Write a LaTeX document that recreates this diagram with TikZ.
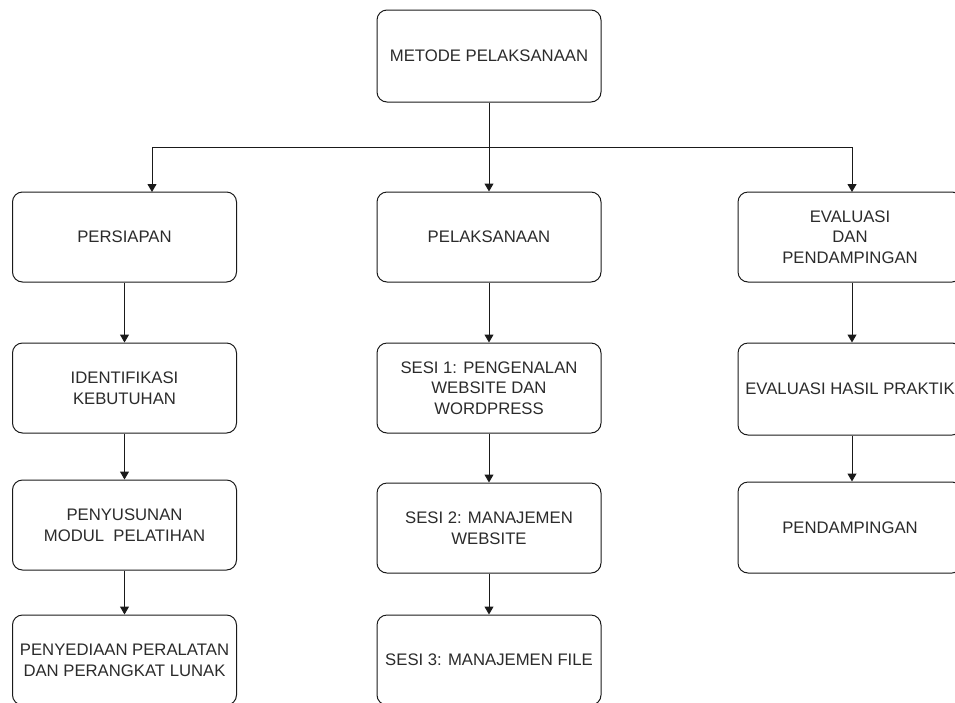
\documentclass[tikz,border=0pt]{standalone}
\usepackage{fontspec}
\setmainfont{Liberation Sans}
\usetikzlibrary{arrows.meta,positioning}
\definecolor{txt}{HTML}{2B2B2B}
\definecolor{ln}{HTML}{1A1A1A}
\begin{document}
\begin{tikzpicture}[x=1pt,y=-1pt,
  box/.style={draw=ln,line width=1pt,rounded corners=10pt,minimum width=224pt,minimum height=90pt,
    align=center,text=txt,font=\fontsize{16.7}{20.7}\selectfont,inner sep=0pt},
  arr/.style={draw=ln,line width=1pt,-{Triangle[length=8pt,width=9pt]}}]
\useasboundingbox (0,0) rectangle (955,702);
\clip (0,0) rectangle (955,702);
\node[box,minimum height=92pt] (top) at (489,56) {METODE PELAKSANAAN};
\node[box] (a1) at (124.5,237) {PERSIAPAN};
\node[box] (b1) at (489,237) {PELAKSANAAN};
\node[box] (c1) at (850,237) {EVALUASI\\DAN\\PENDAMPINGAN};
\node[box] (a2) at (124.5,388) {IDENTIFIKASI\\KEBUTUHAN};
\node[box] (b2) at (489,388) {SESI 1: PENGENALAN\\WEBSITE DAN\\WORDPRESS};
\node[box,minimum height=92pt] (c2) at (850,389) {EVALUASI HASIL PRAKTIK};
\node[box] (a3) at (124.5,525) {PENYUSUNAN\\MODUL\ \ PELATIHAN};
\node[box] (b3) at (489,528) {SESI 2: MANAJEMEN\\WEBSITE};
\node[box,minimum height=91pt] (c3) at (850,527.5) {PENDAMPINGAN};
\node[box] (a4) at (124.5,660) {PENYEDIAAN PERALATAN\\DAN PERANGKAT LUNAK};
\node[box] (b4) at (489,660) {SESI 3: MANAJEMEN FILE};
\coordinate (ea) at (152,192);
\coordinate (ec) at (852,192);
\draw[arr] (top.south) -- (b1.north);
\draw[arr] (top.south) -- ++(0,45) -| (ea);
\draw[arr] (top.south) -- ++(0,45) -| (ec);
\draw[arr] (a1) -- (a2);
\draw[arr] (a2) -- (a3);
\draw[arr] (a3) -- (a4);
\draw[arr] (b1) -- (b2);
\draw[arr] (b2) -- (b3);
\draw[arr] (b3) -- (b4);
\draw[arr] (c1.south -| ec) -- (c2.north -| ec);
\draw[arr] (c2.south -| ec) -- (c3.north -| ec);
\end{tikzpicture}
\end{document}
